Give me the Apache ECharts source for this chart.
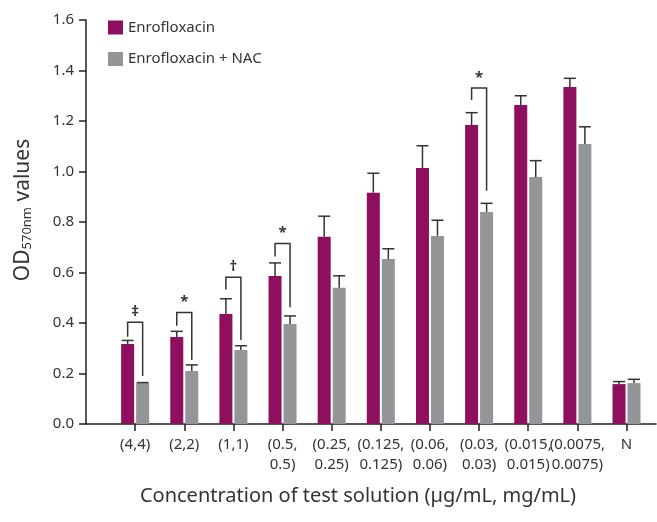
<!DOCTYPE html>
<html><head><meta charset="utf-8">
<script src="https://cdn.jsdelivr.net/npm/echarts@6/dist/echarts.min.js"></script>
<style>html,body{margin:0;padding:0;background:#fff}#c{width:657px;height:522px}</style>
</head><body><div id="c"></div>
<script>
const categories = ['(4,4)','(2,2)','(1,1)','(0.5,\n0.5)','(0.25,\n0.25)','(0.125,\n0.125)','(0.06,\n0.06)','(0.03,\n0.03)','(0.015,\n0.015)','(0.0075,\n0.0075)','N'];
const seriesNames = ['Enrofloxacin','Enrofloxacin + NAC'];
const enro    = [0.317,0.345,0.436,0.586,0.742,0.916,1.014,1.184,1.263,1.335,0.158];
const enroErr = [0.014,0.022,0.060,0.052,0.081,0.077,0.088,0.049,0.037,0.034,0.010];
const nac     = [0.162,0.210,0.293,0.396,0.540,0.653,0.745,0.840,0.978,1.109,0.162];
const nacErr  = [0.002,0.024,0.017,0.032,0.047,0.041,0.062,0.034,0.065,0.068,0.015];
const yTicks  = [0,0.2,0.4,0.6,0.8,1.0,1.2,1.4,1.6];
// significance brackets
const sigIndex    = [0,1,2,3,7];
const sigTop      = [0.403,0.442,0.581,0.715,1.331];
const sigLeftEnd  = [0.346,0.389,0.533,0.663,1.283];
const sigRightEnd = [0.190,0.253,0.333,0.462,0.924];
const sigMark     = ['‡','*','†','*','*'];

const MAG = '#8E0F5D', GRY = '#939598', INK = '#333333';
const FONT = '"Noto Sans", "Open Sans", sans-serif';
const BW = 13, OFF = 7.5;

const catPos = categories.map((c,i)=>i+1);

function barSeries(name, vals, color, off){
  return {
    name, type:'custom', itemStyle:{color},
    data: vals.map((v,i)=>[catPos[i], v]),
    renderItem(params, api){
      const x = api.value(0), v = api.value(1);
      const b = api.coord([x,0]), t = api.coord([x,v]);
      return {type:'rect', shape:{x:b[0]+off-BW/2, y:t[1], width:BW, height:b[1]-t[1]}, style:{fill:color}};
    }
  };
}
function errSeries(vals, errs, off){
  return {
    type:'custom', silent:true, z:3,
    data: vals.map((v,i)=>[catPos[i], v, v+errs[i]]),
    renderItem(params, api){
      const x = api.value(0);
      const t = api.coord([x, api.value(1)]), e = api.coord([x, api.value(2)]);
      const cx = t[0]+off;
      return {type:'group', children:[
        {type:'line', shape:{x1:cx,y1:t[1],x2:cx,y2:e[1]}, style:{stroke:INK,lineWidth:1.5}},
        {type:'line', shape:{x1:cx-6,y1:e[1],x2:cx+6,y2:e[1]}, style:{stroke:INK,lineWidth:1.5}}
      ]};
    }
  };
}
const sigSeries = {
  type:'custom', silent:true, z:4,
  data: sigIndex.map((k,i)=>[catPos[k], sigTop[i], sigLeftEnd[i], sigRightEnd[i], i]),
  renderItem(params, api){
    const x = api.value(0);
    const top = api.coord([x, api.value(1)]);
    const l = api.coord([x, api.value(2)]);
    const r = api.coord([x, api.value(3)]);
    const i = api.value(4);
    const xl = top[0]-OFF, xr = top[0]+OFF;
    return {type:'group', children:[
      {type:'polyline', shape:{points:[[xl,l[1]],[xl,top[1]],[xr,top[1]],[xr,r[1]]]}, style:{stroke:INK,lineWidth:1.5,fill:null}},
      {type:'text', x:top[0], y:top[1]-3, style:{text:sigMark[i], fill:INK, font:'bold 15px '+FONT, align:'center', verticalAlign:'bottom'}}
    ]};
  }
};

const chart = echarts.init(document.getElementById('c'), null, {renderer:'canvas'});
chart.setOption({
  animation:false,
  textStyle:{fontFamily:FONT},
  grid:{left:86, right:1, top:20, bottom:98},
  legend:{
    data:seriesNames, orient:'vertical', left:108, top:20, padding:0,
    icon:'rect', itemWidth:15, itemHeight:14, itemGap:16.5,
    textStyle:{fontSize:15, color:INK, fontFamily:FONT}
  },
  xAxis:{
    type:'value', min:0, max:11.6, interval:1,
    name:'Concentration of test solution (µg/mL, mg/mL)',
    nameLocation:'middle', nameGap:62,
    nameTextStyle:{fontSize:20, color:INK, fontFamily:FONT, padding:[0,26,0,0]},
    axisLine:{lineStyle:{color:'#231f20', width:1.5}},
    axisTick:{length:7, lineStyle:{color:'#231f20', width:1.5}, customValues:catPos},
    axisLabel:{customValues:catPos, formatter:(v)=>categories[Math.round(v)-1]||'', fontSize:15, color:INK, lineHeight:20, margin:11, fontFamily:FONT},
    splitLine:{show:false}
  },
  yAxis:{
    type:'value', min:0, max:1.6, interval:0.2,
    name:'OD{sub|570nm} values', nameLocation:'middle', nameRotate:90, nameGap:52,
    nameTextStyle:{fontSize:21, color:INK, fontFamily:FONT, padding:[0,0,0,24],
      rich:{sub:{fontSize:13, color:INK, fontFamily:FONT, padding:[9,0,0,0]}}},
    axisLine:{show:true, lineStyle:{color:'#231f20', width:1.5}},
    axisTick:{show:true, length:7, lineStyle:{color:'#231f20', width:1.5}},
    axisLabel:{formatter:(v)=>{const t=yTicks.find(y=>Math.abs(y-v)<1e-6); return (t===undefined?v:t).toFixed(1);}, fontSize:15, color:INK, margin:12, fontFamily:FONT},
    splitLine:{show:false}
  },
  series:[
    barSeries(seriesNames[0], enro, MAG, -OFF),
    barSeries(seriesNames[1], nac, GRY, OFF),
    errSeries(enro, enroErr, -OFF),
    errSeries(nac, nacErr, OFF),
    sigSeries
  ]
});
</script></body></html>
